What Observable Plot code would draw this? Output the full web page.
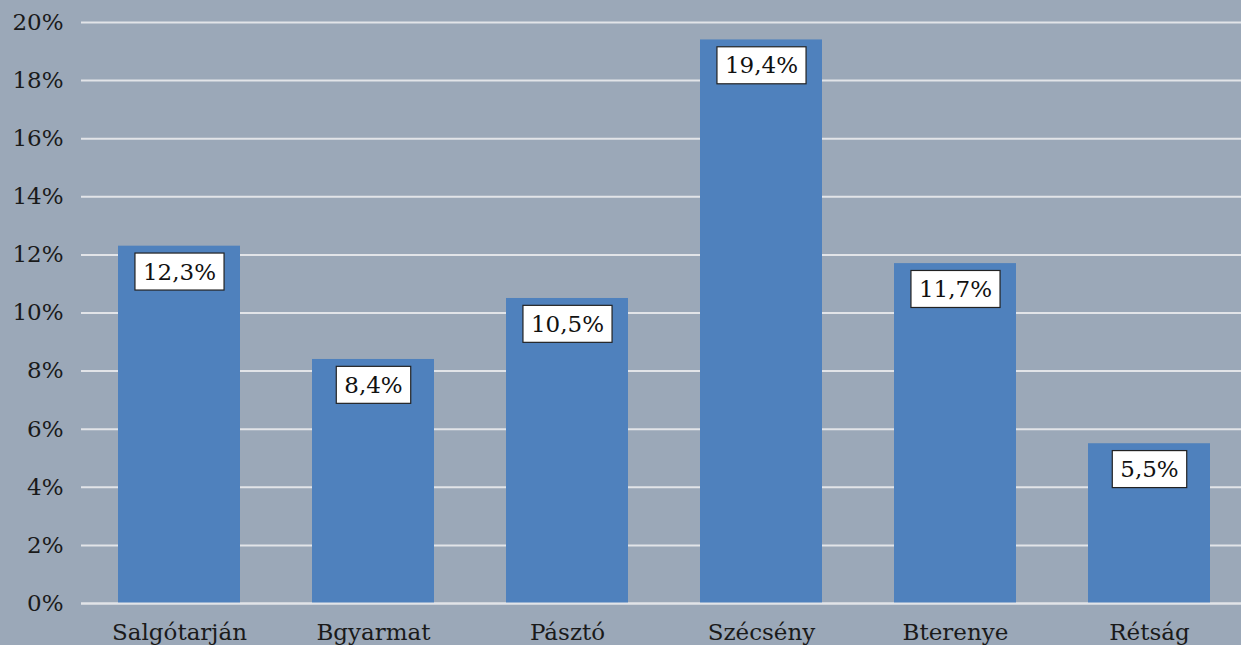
<!DOCTYPE html>
<html>
<head>
<meta charset="utf-8">
<script src="https://cdn.jsdelivr.net/npm/d3@7"></script>
<script src="https://cdn.jsdelivr.net/npm/@observablehq/plot@0.6"></script>
<style>
  html, body { margin: 0; padding: 0; background: #9ba8b8; overflow: hidden; }
  #chart svg { display: block; }
</style>
</head>
<body>
<div id="chart"></div>
<script>
const categories = ["Salgótarján", "Bgyarmat", "Pásztó", "Szécsény", "Bterenye", "Rétság"];
const values = [12.3, 8.4, 10.5, 19.4, 11.7, 5.5];
const yTicks = [0, 2, 4, 6, 8, 10, 12, 14, 16, 18, 20];

const data = categories.map((c, i) => ({ category: c, value: values[i] }));
const fmt = v => v.toFixed(1).replace(".", ",") + "%";

const font = "'DejaVu Serif', 'Liberation Serif', serif";

const chart = Plot.plot({
  width: 1241,
  height: 645,
  marginLeft: 81,
  marginRight: 0,
  marginTop: 22,
  marginBottom: 42,
  style: { background: "#9ba8b8", fontFamily: font, fontSize: "23px", color: "#1a1a1a" },
  x: { domain: categories, range: [81, 1246], paddingInner: 0.372, paddingOuter: 0.186, label: null, tickSize: 0, tickPadding: 20 },
  y: { domain: [0, 20], ticks: yTicks, tickFormat: d => d + "%", label: null, tickSize: 0, tickPadding: 18 },
  marks: [
    Plot.ruleY(yTicks, { stroke: "#e2e4e8", strokeWidth: 2 }),
    Plot.barY(data, { x: "category", y: "value", fill: "#4f81bd" }),
    Plot.ruleY([0], { stroke: "#e2e4e8", strokeWidth: 2 }),
    Plot.text(data, {
      x: "category", y: "value", text: d => fmt(d.value),
      dy: 26, fill: "#111", fontSize: 23, fontFamily: font
    })
  ]
});

document.getElementById("chart").appendChild(chart);

// white label boxes behind value labels
chart.querySelectorAll('g[aria-label="text"] text').forEach(t => {
  const b = t.getBBox();
  const r = document.createElementNS("http://www.w3.org/2000/svg", "rect");
  const padX = 8, h = 37;
  const cy = b.y + b.height / 2;
  r.setAttribute("x", b.x - padX);
  r.setAttribute("y", cy - h / 2);
  r.setAttribute("width", b.width + 2 * padX);
  r.setAttribute("height", h);
  r.setAttribute("fill", "#fff");
  r.setAttribute("stroke", "#222");
  r.setAttribute("stroke-width", 1.2);
  const tr = t.getAttribute("transform");
  if (tr) r.setAttribute("transform", tr);
  t.parentNode.insertBefore(r, t);
});
</script>
</body>
</html>
